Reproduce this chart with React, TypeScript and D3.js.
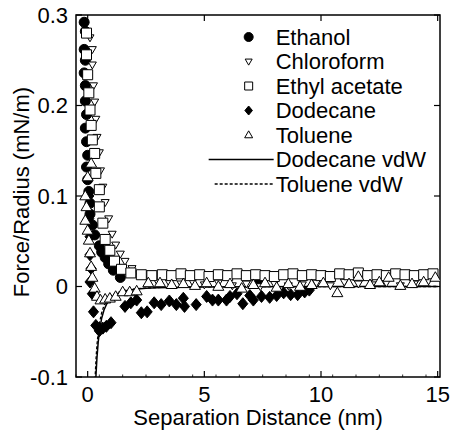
import * as d3 from 'd3';
import React, { useRef, useEffect } from 'react';

// values (nm, mN/m)
const ethanolX = [-0.15, -0.1, -0.15, -0.1, -0.15, -0.1, -0.1, -0.05, -0.1, -0.05, 0, -0.05, 0, 0.05, 0.1, 0.1, 0.2, 0.3, 0.5, 0.6, 0.75, 0.9, 1.1, 1.4];
const ethanolY = [0.292, 0.282, 0.262, 0.25, 0.236, 0.222, 0.205, 0.19, 0.175, 0.16, 0.145, 0.132, 0.118, 0.105, 0.092, 0.08, 0.068, 0.057, 0.045, 0.038, 0.032, 0.025, 0.018, 0.01];

const chloroformX = [0.1, 0.2, 0.2, 0.25, 0.3, 0.35, 0.4, 0.5, 0.55, 0.65, 0.75, 0.9, 1.05, 1.2, 1.4, 1.6, 1.9, 2.2, 2.6, 3.0, 3.5, 4.0, 4.5, 5.0, 5.6, 6.2, 6.8, 7.4, 8.0, 8.6, 9.2, 9.8, 10.4, 11.0, 11.6, 12.2, 12.8, 13.4, 14.0, 14.6];
const chloroformY = [0.275, 0.262, 0.245, 0.222, 0.204, 0.185, 0.165, 0.148, 0.128, 0.11, 0.093, 0.075, 0.058, 0.046, 0.036, 0.028, 0.02, 0.014, 0.008, 0.005, 0.004, 0.003, 0.005, 0.002, 0.004, 0.001, 0.003, 0.0, 0.003, 0.001, 0.002, 0.004, 0.001, 0.005, 0.003, 0.002, 0.004, 0.001, 0.003, 0.006];

const ethylAcetateX = [-0.05, -0.05, 0, 0.05, 0.1, 0.15, 0.2, 0.3, 0.35, 0.5, 0.5, 0.65, 0.75, 0.95, 1.15, 1.45, 1.85, 2.3, 2.75, 3.2, 3.6, 4.0, 4.4, 4.8, 5.2, 5.6, 6.0, 6.4, 6.8, 7.2, 7.6, 8.0, 8.4, 8.8, 9.2, 9.6, 10.0, 10.4, 10.8, 11.2, 11.6, 12.0, 12.4, 12.8, 13.2, 13.6, 14.0, 14.4, 14.8];
const ethylAcetateY = [0.28, 0.256, 0.234, 0.214, 0.195, 0.178, 0.162, 0.147, 0.125, 0.107, 0.088, 0.07, 0.052, 0.04, 0.028, 0.019, 0.015, 0.013, 0.012, 0.013, 0.012, 0.014, 0.012, 0.013, 0.011, 0.013, 0.012, 0.014, 0.012, 0.013, 0.012, 0.011, 0.013, 0.014, 0.012, 0.013, 0.012, 0.011, 0.014, 0.013, 0.015, 0.012, 0.013, 0.012, 0.014, 0.013, 0.012, 0.013, 0.014];

const dodecaneX = [0.05, 0.05, 0.1, 0.1, 0.15, 0.1, 0.2, 0.25, 0.35, 0.5, 0.65, 0.8, 1.0, 1.6, 1.85, 2.1, 2.3, 2.55, 2.85, 3.15, 3.5, 3.8, 4.1, 4.15, 4.65, 5.1, 5.35, 5.6, 5.95, 6.1, 6.4, 6.65, 6.95, 7.1, 7.3, 7.45, 7.8, 8.1, 8.4, 8.7, 9.0, 9.3, 9.5];
const dodecaneY = [0.1, 0.075, 0.055, 0.035, 0.02, 0.005, -0.008, -0.028, -0.043, -0.049, -0.046, -0.044, -0.04, -0.022, -0.018, -0.015, -0.029, -0.028, -0.018, -0.02, -0.016, -0.02, -0.013, -0.022, -0.02, -0.011, -0.015, -0.015, -0.015, -0.011, -0.008, -0.019, -0.01, -0.015, 0.005, -0.011, -0.012, -0.01, -0.007, -0.009, -0.009, -0.006, -0.004];

const tolueneX = [0.15, 0.0, -0.1, -0.05, -0.1, 0.0, 0.05, 0.1, 0.15, 0.2, 0.3, 0.4, 0.55, 0.75, 0.95, 1.2, 1.5, 1.8, 2.1, 2.6, 3.1, 3.6, 4.1, 4.6, 5.1, 5.6, 6.1, 6.6, 7.1, 7.6, 8.1, 8.6, 9.1, 9.6, 10.1, 10.7, 11.2, 11.6, 12.1, 12.5, 12.9, 13.4, 13.9, 14.4, 14.9];
const tolueneY = [0.136, 0.121, 0.1, 0.088, 0.073, 0.062, 0.051, 0.037, 0.022, 0.01, -0.002, -0.011, -0.015, -0.014, -0.013, -0.011, -0.006, -0.006, -0.005, 0.004, 0.004, 0.002, 0.003, 0.001, 0.004, 0.0, 0.003, -0.002, 0.002, 0.004, -0.001, 0.003, 0.0, 0.002, 0.004, -0.007, 0.003, 0.011, 0.002, 0.005, 0.01, 0.001, 0.003, 0.005, 0.01];

const vdwX = [0.28, 0.32, 0.36, 0.4, 0.45, 0.5, 0.6, 0.7, 0.8, 1.0, 1.2, 1.5, 2.0, 2.5, 3, 4, 5, 7, 10, 15];
const dodecaneVdwY = [-0.16, -0.122, -0.096, -0.078, -0.062, -0.05, -0.035, -0.026, -0.02, -0.0125, -0.0087, -0.0056, -0.0031, -0.002, -0.0014, -0.0008, -0.0005, -0.0003, -0.0001, -0.0001];
const tolueneVdwY = [-0.13, -0.1, -0.079, -0.064, -0.051, -0.041, -0.029, -0.021, -0.016, -0.0102, -0.0071, -0.0046, -0.0026, -0.0017, -0.0011, -0.0006, -0.0004, -0.0002, -0.0001, 0];

const xTicks = [0, 5, 10, 15];
const yTicks = [-0.1, 0, 0.1, 0.2, 0.3];
const legendLabels = ['Ethanol', 'Chloroform', 'Ethyl acetate', 'Dodecane', 'Toluene', 'Dodecane vdW', 'Toluene vdW'];

const FONT = "'Liberation Sans', Arial, sans-serif";
const FS = 22;

// marker path builders, s = size
const markers = {
    circle: (s) => { const r = s / 2; return `M${r},0A${r},${r} 0 1,1 ${-r},0A${r},${r} 0 1,1 ${r},0Z`; },
    square: (s) => { const h = s / 2; return `M${-h},${-h}H${h}V${h}H${-h}Z`; },
    diamond: (s) => { const h = s / 2, w = s * 0.42; return `M0,${-h}L${w},0L0,${h}L${-w},0Z`; },
    up: (s) => { const h = s * 0.866; return `M0,${-h * 0.6}L${s / 2},${h * 0.4}L${-s / 2},${h * 0.4}Z`; },
    down: (s) => { const h = s * 0.866; return `M0,${h * 0.6}L${s / 2},${-h * 0.4}L${-s / 2},${-h * 0.4}Z`; },
};

function ForceChart({ width, height }) {
    const ref = useRef();

    useEffect(() => {
        let svg = d3.select(ref.current);
        svg.selectAll('*').remove();
        draw();
    }, []);

    const draw = () => {
        let margin = { top: 15, right: 13, bottom: 54, left: 76 };
        let w = width - margin.left - margin.right, h = height - margin.top - margin.bottom;

        let x = d3.scaleLinear().domain([-0.5, 15.1]).range([0, w]);
        let y = d3.scaleLinear().domain([-0.1, 0.3]).range([h, 0]);

        let svg = d3.select(ref.current)
            .attr('width', width)
            .attr('height', height);

        svg.append('rect').attr('width', width).attr('height', height).attr('fill', 'white');

        let g = svg.append('g')
            .attr('transform', 'translate(' + margin.left + ',' + margin.top + ')');

        g.append('clipPath').attr('id', 'plotclip')
            .append('rect').attr('width', w).attr('height', h);

        // frame
        g.append('rect')
            .attr('width', w).attr('height', h)
            .attr('fill', 'none').attr('stroke', 'black').attr('stroke-width', 1.5);

        // inward ticks on all four sides
        const tl = 6;
        xTicks.forEach(t => {
            g.append('line').attr('x1', x(t)).attr('x2', x(t)).attr('y1', h).attr('y2', h - tl)
                .attr('stroke', 'black').attr('stroke-width', 1.2);
            g.append('line').attr('x1', x(t)).attr('x2', x(t)).attr('y1', 0).attr('y2', tl)
                .attr('stroke', 'black').attr('stroke-width', 1.2);
            g.append('text').text(t)
                .attr('x', x(t)).attr('y', h + 25)
                .attr('text-anchor', 'middle')
                .attr('font-family', FONT).attr('font-size', FS);
        });
        d3.range(-0.5, 15.1, 1).forEach(t => {
            g.append('line').attr('x1', x(t)).attr('x2', x(t)).attr('y1', h).attr('y2', h - 2.5)
                .attr('stroke', 'black').attr('stroke-width', 0.8);
        });
        yTicks.forEach(t => {
            g.append('line').attr('x1', 0).attr('x2', tl).attr('y1', y(t)).attr('y2', y(t))
                .attr('stroke', 'black').attr('stroke-width', 1.2);
            g.append('line').attr('x1', w).attr('x2', w - tl).attr('y1', y(t)).attr('y2', y(t))
                .attr('stroke', 'black').attr('stroke-width', 1.2);
            g.append('text').text(t === 0 ? '0' : d3.format('.1f')(t).replace('\u2212', '-'))
                .attr('x', -8).attr('y', y(t)).attr('dy', '0.35em')
                .attr('text-anchor', 'end')
                .attr('font-family', FONT).attr('font-size', FS);
        });

        // axis titles
        g.append('text').text('Separation Distance (nm)')
            .attr('x', w / 2).attr('y', h + 48)
            .attr('text-anchor', 'middle')
            .attr('font-family', FONT).attr('font-size', FS);
        g.append('text').text('Force/Radius (mN/m)')
            .attr('transform', 'translate(' + (-47) + ',' + (h / 2 - 4) + ') rotate(-90)')
            .attr('text-anchor', 'middle')
            .attr('font-family', FONT).attr('font-size', FS);

        let plot = g.append('g').attr('clip-path', 'url(#plotclip)');

        // vdW lines
        const line = d3.line().x(d => x(d[0])).y(d => y(d[1]));
        plot.append('path').datum(vdwX.map((v, i) => [v, tolueneVdwY[i]]))
            .attr('d', line).attr('fill', 'none').attr('stroke', 'black')
            .attr('stroke-width', 1.3).attr('stroke-dasharray', '3,2');
        plot.append('path').datum(vdwX.map((v, i) => [v, dodecaneVdwY[i]]))
            .attr('d', line).attr('fill', 'none').attr('stroke', 'black')
            .attr('stroke-width', 1.5);

        const series = [
            { xs: ethanolX, ys: ethanolY, shape: 'circle', size: 10, fill: 'black' },
            { xs: dodecaneX, ys: dodecaneY, shape: 'diamond', size: 12, fill: 'black' },
            { xs: chloroformX, ys: chloroformY, shape: 'down', size: 8, fill: 'white' },
            { xs: ethylAcetateX, ys: ethylAcetateY, shape: 'square', size: 10, fill: 'white' },
            { xs: tolueneX, ys: tolueneY, shape: 'up', size: 11, fill: 'white' },
        ];

        series.forEach(s => {
            plot.append('g').selectAll('path')
                .data(s.xs.map((v, i) => [v, s.ys[i]]))
                .enter()
                .append('path')
                .attr('transform', d => 'translate(' + x(d[0]) + ',' + y(d[1]) + ')')
                .attr('d', markers[s.shape](s.size))
                .attr('fill', s.fill)
                .attr('stroke', 'black')
                .attr('stroke-width', 1);
        });

        // legend
        const legendShapes = [
            { shape: 'circle', size: 9, fill: 'black' },
            { shape: 'down', size: 7, fill: 'white' },
            { shape: 'square', size: 8, fill: 'white' },
            { shape: 'diamond', size: 9, fill: 'black' },
            { shape: 'up', size: 8, fill: 'white' },
        ];
        let legend = g.append('g').attr('transform', 'translate(' + (x(6.9)) + ',' + 22 + ')');
        legendLabels.forEach((label, i) => {
            const ly = i * 24.5;
            if (i < 5) {
                const m = legendShapes[i];
                legend.append('path')
                    .attr('transform', 'translate(0,' + ly + ')')
                    .attr('d', markers[m.shape](m.size))
                    .attr('fill', m.fill).attr('stroke', 'black').attr('stroke-width', 1);
            } else {
                legend.append('line')
                    .attr('x1', i === 5 ? -40 : -34).attr('x2', 25)
                    .attr('y1', ly).attr('y2', ly)
                    .attr('stroke', 'black').attr('stroke-width', 1.3)
                    .attr('stroke-dasharray', i === 6 ? '3,2' : null);
            }
            legend.append('text').text(label)
                .attr('x', 27).attr('y', ly).attr('dy', '0.35em')
                .attr('font-family', FONT).attr('font-size', FS);
        });
    };

    return (
        <svg ref={ref} style={{ position: 'absolute', left: 0, top: 0 }}></svg>
    );
}

export default function App() {
    return <ForceChart width={453} height={431} />;
}
